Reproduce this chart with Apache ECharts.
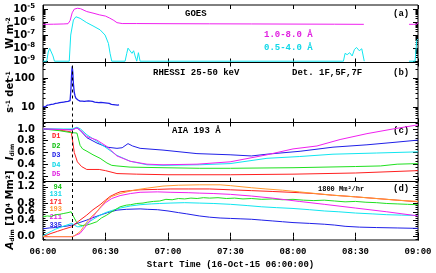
<!DOCTYPE html>
<html><head><meta charset="utf-8">
<script src="https://cdn.jsdelivr.net/npm/echarts@6/dist/echarts.min.js"></script>
<style>html,body{margin:0;padding:0;background:#fff}#c{width:436px;height:273px}</style>
</head><body><div id="c"></div>
<script>
// ---------- tick labels ----------
const xTicks = ['06:00','06:30','07:00','07:30','08:00','08:30','09:00'];
const yTicksA = [-9,-8,-7,-6,-5];          // log10 W m^-2
const yTicksB = [1,2];                      // log10 counts
const yTicksC = [0.2,0.4,0.6,0.8,1.0];
const yTicksD = [0,0.2,0.4,0.6,0.8,1.0,1.2];
const dashT = 14; // minutes after 06:00

// ---------- (a) GOES, [minutes, log10 flux] ----------
const goesLong = [[0,-6.18],[5,-6.17],[10,-6.15],[12,-6.13],[13,-5.9],[14,-5.3],[15,-5.02],[16.5,-4.95],[18,-4.98],[21,-5.2],[24,-5.32],[27,-5.45],[30,-5.55],[32,-5.7],[34,-5.88],[35.5,-6.05],[38,-6.12],[45,-6.12],[60,-6.13],[80,-6.14],[100,-6.15],[120,-6.16],[140,-6.17],[154,-6.18],[155,null],[175.7,-6.18],[178,-6.18],[179.5,-6.17],[180,-6.03]];
const goesShort = [[0,-9],[1.8,-9],[2.5,-8.3],[3.2,-8.02],[4,-8.1],[4.8,-8.6],[5.5,-9],[12.6,-9],[13.3,-7.0],[14.6,-5.85],[15.8,-5.6],[17.8,-5.72],[21,-6.05],[24,-6.3],[27.4,-6.6],[29.8,-7.0],[31.4,-7.64],[32.2,-8.4],[33,-9],[39.4,-9],[40.2,-8.4],[40.8,-8.0],[41.6,-8.1],[42.7,-8.4],[43.5,-8.2],[44.2,-8.6],[45,-9],[45.8,-8.35],[46.6,-9],[144.2,-9],[145,-8.4],[146,-8.5],[147.2,-8.35],[148.4,-8.6],[149.5,-8.1],[150.5,-7.95],[151.8,-8.2],[153,-8.05],[154.2,-9],[155,null],[175.7,-9],[178.6,-9],[179.4,-7.4],[180,-7.3]];

// ---------- (b) RHESSI 25-50 keV, [minutes, log10 rate] ----------
const rhessi = [[0,1.02],[0.5,1.05],[1,1.0],[1.5,1.04],[2,1.06],[2.5,1.03],[3,1.07],[3.5,1.05],[4,1.09],[4.5,1.06],[5,1.1],[5.5,1.08],[6,1.12],[6.5,1.09],[7,1.13],[7.5,1.11],[8,1.15],[8.5,1.12],[9,1.16],[9.5,1.14],[10,1.17],[10.5,1.15],[11,1.18],[11.5,1.16],[12,1.19],[12.5,1.18],[13,1.22],[13.4,1.6],[13.7,2.1],[14,2.41],[14.3,2.2],[14.6,1.8],[15,1.5],[15.4,1.38],[15.8,1.3],[16.3,1.26],[16.8,1.24],[17.3,1.22],[17.8,1.2],[18.3,1.23],[18.8,1.2],[19.3,1.22],[19.8,1.19],[20.3,1.21],[20.8,1.2],[21.3,1.18],[21.8,1.21],[22.3,1.19],[22.8,1.2],[23.3,1.22],[23.8,1.19],[24.3,1.21],[24.8,1.17],[25.3,1.19],[25.8,1.16],[26.3,1.18],[26.8,1.15],[27.3,1.14],[27.8,1.16],[28.3,1.13],[28.8,1.15],[29.3,1.12],[29.8,1.14],[30.3,1.11],[30.8,1.13],[31.3,1.1],[31.8,1.12],[32.3,1.11],[32.8,1.09],[33.3,1.12],[33.8,1.08],[34.3,1.1],[34.8,1.07],[35.3,1.09],[35.8,1.06],[36.5,1.07]];

// ---------- (c) AIA 193 dimming intensity ----------
const cD1 = [[0,1.0],[5,0.99],[10,0.97],[13.5,0.95],[14,0.85],[15,0.6],[16.5,0.44],[18.5,0.36],[21,0.31],[27,0.31],[30,0.29],[35.5,0.24],[45,0.23],[60,0.22],[90,0.22],[120,0.23],[150,0.25],[180,0.29]];
const cD2 = [[0,1.0],[8,0.97],[13,0.94],[16.3,0.93],[17.8,0.72],[19,0.66],[21.1,0.62],[24,0.56],[27.4,0.5],[30.7,0.42],[33,0.38],[35.5,0.37],[41.8,0.35],[57.6,0.34],[75,0.33],[90,0.33],[120,0.34],[150,0.36],[162,0.37],[170,0.4],[180,0.41]];
const cD3 = [[0,1.0],[10,0.99],[14,0.99],[16.3,1.02],[18,0.97],[21.1,0.85],[25.9,0.76],[30.7,0.69],[35.5,0.67],[38,0.68],[40.8,0.75],[43,0.71],[46.6,0.67],[57.6,0.64],[73.9,0.58],[89.8,0.56],[100,0.54],[107.5,0.57],[123.4,0.62],[139.2,0.69],[155.5,0.73],[168,0.77],[180,0.81]];
const cD4 = [[0,1.0],[10,1.0],[14,1.0],[16.3,1.03],[18,1.0],[21.1,0.9],[25.9,0.79],[30.7,0.67],[35.5,0.55],[41.8,0.45],[49.9,0.39],[57.6,0.38],[75,0.39],[89.8,0.41],[107.5,0.5],[123,0.53],[139.2,0.57],[160,0.59],[180,0.61]];
const cD5 = [[0,1.0],[10,0.99],[14,0.98],[16.3,1.02],[18,0.98],[21.1,0.87],[25.9,0.81],[30.7,0.7],[35.5,0.54],[41.8,0.45],[49.9,0.4],[57.6,0.39],[73.9,0.4],[89.8,0.44],[107.5,0.56],[120,0.66],[131.5,0.71],[142.6,0.82],[155.5,0.92],[168,1.0],[180,1.07]];

// ---------- (d) dimming area [10^4 Mm^2] ----------
const d94 = [[0,0.48],[2,0.5],[4,0.49],[6,0.53],[8,0.54],[10,0.56],[12,0.58],[13.5,0.6],[14.5,0.5],[16,0.36],[17.5,0.28],[19,0.27],[21,0.28],[23,0.31],[25.8,0.36],[28,0.45],[30.6,0.52],[33,0.6],[35,0.66],[37,0.72],[40,0.76],[42,0.77],[45,0.8],[48,0.81],[50,0.83],[53,0.85],[56,0.86],[59,0.9],[62,0.89],[65,0.92],[68,0.91],[71,0.93],[74,0.92],[77,0.94],[80,0.93],[84,0.94],[88,0.92],[92,0.93],[96,0.91],[100,0.92],[105,0.9],[110,0.91],[115,0.89],[120,0.9],[125,0.88],[130,0.87],[135,0.88],[140,0.86],[145,0.84],[150,0.85],[155,0.83],[160,0.82],[165,0.8],[170,0.79],[175,0.78],[180,0.77]];
const d131 = [[0,0.02],[2,0.08],[4,0.13],[6,0.18],[9,0.24],[12,0.29],[13.8,0.32],[15,0.28],[16.5,0.24],[18,0.24],[19.5,0.27],[21,0.32],[23.5,0.4],[26,0.48],[28,0.53],[30,0.58],[33,0.63],[37,0.69],[42,0.74],[46.6,0.77],[52,0.79],[56,0.8],[61,0.81],[68,0.82],[75,0.81],[82,0.8],[90,0.78],[98,0.75],[105,0.72],[112,0.7],[120,0.68],[128,0.65],[135,0.62],[142,0.6],[150,0.57],[158,0.55],[165,0.53],[172,0.52],[180,0.51]];
const d171 = [[0,0.0],[3.4,0.07],[7,0.13],[10,0.18],[13.8,0.24],[17,0.37],[21,0.52],[24,0.65],[27.4,0.77],[30,0.88],[32.2,0.97],[35,1.04],[37,1.08],[42,1.11],[46.6,1.13],[55,1.14],[61,1.15],[70,1.15],[80,1.15],[90,1.13],[100,1.11],[110,1.09],[123,1.06],[130,1.04],[139,1.0],[150,0.96],[160,0.92],[170,0.88],[180,0.84]];
const d193 = [[0,0.0],[14,0.0],[15,0.02],[17.8,0.12],[21,0.35],[23,0.47],[25.8,0.6],[28,0.74],[30.6,0.88],[33,0.97],[37,1.04],[41.8,1.1],[46,1.14],[50,1.17],[57.6,1.22],[65,1.24],[75,1.25],[85,1.25],[90,1.23],[100,1.18],[107,1.15],[115,1.12],[123,1.08],[131,1.04],[139,1.0],[150,0.96],[160,0.92],[170,0.88],[180,0.85]];
const d211 = [[0,0.0],[14,0.0],[15,0.02],[17.8,0.08],[21,0.28],[23.5,0.45],[25.8,0.6],[28,0.72],[30,0.82],[33,0.92],[37,0.99],[42,1.04],[46.6,1.07],[55,1.08],[61,1.07],[70,1.06],[75,1.05],[82,1.04],[90,1.02],[100,0.98],[110,0.93],[123,0.85],[135,0.78],[150,0.69],[165,0.6],[180,0.5]];
const d335 = [[0,0.19],[3,0.21],[6,0.22],[9,0.24],[12,0.26],[13.8,0.28],[17,0.33],[21,0.4],[24,0.46],[27.4,0.52],[31,0.58],[35.5,0.64],[40,0.66],[46.6,0.67],[50,0.66],[55,0.65],[60,0.62],[65,0.58],[69,0.55],[75,0.5],[80,0.47],[85,0.45],[90,0.44],[95,0.43],[100,0.42],[105,0.4],[110,0.38],[115,0.36],[120,0.34],[128,0.32],[135,0.3],[140,0.28],[145,0.25],[152,0.23],[160,0.22],[170,0.21],[180,0.2]];

// ---------- colours ----------
const MAG='#f020f0', CYA='#10e6f0', BLU='#2020e8', RED='#ff2020', GRN='#20e020', ORA='#ff9a30';

// ---------- layout ----------
const L = 43, W = 375;
const panels = [
  {top:5, height:57.5, range:[-9.1,-4.7], ticks:yTicksA},
  {top:62.5, height:60, range:[0.46,2.54], ticks:yTicksB},
  {top:122.5, height:59, range:[0.105,1.11], ticks:yTicksC},
  {top:181.5, height:58.5, range:[-0.08,1.33], ticks:yTicksD}
];
function logMinor(lo, hi){ const r=[]; for(let n=Math.floor(lo)-1;n<=Math.ceil(hi);n++){for(let k=2;k<=9;k++){const v=n+Math.log10(k); if(v>lo&&v<hi) r.push(v);}} return r; }
function linMinor(lo, hi, st){ const r=[]; for(let v=Math.ceil(lo/st)*st; v<hi; v+=st){ r.push(+v.toFixed(4)); } return r; }
const minors = [logMinor(-9.1,-4.7), logMinor(0.46,2.54), linMinor(0.105,1.11,0.05), linMinor(-0.08,1.33,0.05)];

const labelFmt = [
  v => '{b|10}{s|' + Math.round(v) + '}',
  v => String(Math.round(Math.pow(10, v))),
  v => v.toFixed(1),
  v => v.toFixed(1)
];

const grid=[], xAxis=[], yAxis=[];
panels.forEach((p,i)=>{
  grid.push({left:L, width:W, top:p.top, height:p.height, show:true, borderColor:'#000', borderWidth:1, backgroundColor:'transparent'});
  ['bottom','top'].forEach(pos=>{
    xAxis.push({type:'value', gridIndex:i, position:pos, min:0, max:180, interval:30,
      axisLine:{show:false}, splitLine:{show:false},
      axisTick:{show:true, inside:true, length:4, lineStyle:{color:'#000'}},
      axisLabel:{show: (i===3 && pos==='bottom'), formatter: v => xTicks[Math.round(v/30)], margin:7,
        showMinLabel:true, showMaxLabel:true, hideOverlap:false,
        fontFamily:'Liberation Mono', fontWeight:'bold', fontSize:9, color:'#000'}});
  });
  ['left','right'].forEach(pos=>{
    yAxis.push({type:'value', gridIndex:i, position:pos, min:p.range[0], max:p.range[1],
      axisLine:{show:false}, splitLine:{show:false},
      axisTick:{show:true, inside:true, length:5, customValues:p.ticks, lineStyle:{color:'#000'}},
      axisLabel:{show: pos==='left', customValues:p.ticks, formatter:labelFmt[i], margin:8,
        showMinLabel:true, showMaxLabel:true, hideOverlap:false,
        fontFamily:'DejaVu Sans', fontWeight:'bold', fontSize:10, color:'#000',
        rich:{b:{fontFamily:'DejaVu Sans', fontWeight:'bold', fontSize:10, color:'#000'},
              s:{fontFamily:'DejaVu Sans', fontWeight:'bold', fontSize:7, color:'#000', verticalAlign:'top', padding:[0,0,6,0]}}}});
    yAxis.push({type:'value', gridIndex:i, position:pos, min:p.range[0], max:p.range[1],
      axisLine:{show:false}, splitLine:{show:false},
      axisTick:{show:true, inside:true, length:2.5, customValues:minors[i], lineStyle:{color:'#000'}},
      axisLabel:{show:false}});
  });
});

function line(data, color, pi, extra, w){
  return Object.assign({type:'line', xAxisIndex:pi*2, yAxisIndex:pi*4, data:data, showSymbol:false, symbol:'none',
    connectNulls:false, lineStyle:{color:color, width:w||1}, itemStyle:{color:color}, animation:false, silent:true}, extra||{});
}
const dashMark = {markLine:{silent:true, symbol:['none','none'], label:{show:false},
  lineStyle:{color:'#000', width:1, type:[3,3]}, data:[{xAxis:dashT}], animation:false}};

const series = [
  line(goesLong, MAG, 0),
  line(goesShort, CYA, 0),
  line(rhessi, BLU, 1, dashMark, 1.3),
  line(cD1, RED, 2, dashMark), line(cD2, GRN, 2), line(cD3, BLU, 2), line(cD4, CYA, 2), line(cD5, MAG, 2),
  line(d335, BLU, 3, dashMark), line(d131, CYA, 3), line(d94, GRN, 3), line(d211, MAG, 3), line(d171, RED, 3), line(d193, ORA, 3)
];

const mono = 'bold 9px "Liberation Mono"';
const small = 'bold 7px "Liberation Mono"';
function txt(t, x, y, font, fill, align){ return {type:'text', x:x, y:y, silent:true, style:{text:t, font:font, fill:fill||'#000', align:align||'left', verticalAlign:'middle'}}; }
function vtxt(t, x, y, rich){ return {type:'text', x:x, y:y, rotation:Math.PI/2, silent:true, style:{text:t, font:'bold 10px "DejaVu Sans"', fill:'#000', align:'center', verticalAlign:'middle', rich:rich}}; }
const richY = {
  n:{fontFamily:'DejaVu Sans', fontWeight:'bold', fontSize:10, fill:'#000'},
  i:{fontFamily:'DejaVu Sans', fontWeight:'bold', fontStyle:'italic', fontSize:10, fill:'#000'},
  p:{fontFamily:'DejaVu Sans', fontWeight:'bold', fontSize:6, fill:'#000', verticalAlign:'top'},
  q:{fontFamily:'DejaVu Sans', fontWeight:'bold', fontSize:6, fill:'#000', verticalAlign:'bottom'}
};
const graphic = [
  txt('GOES', 185, 14, mono), txt('(a)', 393, 14, mono),
  txt('1.0-8.0 Å', 264, 35, mono, '#e020e0'), txt('0.5-4.0 Å', 264, 48, mono, '#10d8e8'),
  txt('RHESSI 25-50 keV', 153, 73, mono), txt('Det. 1F,5F,7F', 292, 73, mono), txt('(b)', 393, 73, mono),
  txt('AIA 193 Å', 172, 131, mono), txt('(c)', 393, 131, mono),
  txt('D1', 52, 136.5, small, '#ff2020'), txt('D2', 52, 146, small, '#10c010'), txt('D3', 52, 155.5, small, '#2020e8'),
  txt('D4', 52, 165, small, '#10d8e8'), txt('D5', 52, 174.5, small, '#e020e0'),
  txt('1800 Mm²/hr', 318, 189, small), txt('(d)', 393, 189, mono),
  txt('94', 62, 187, small, '#10c010', 'right'), txt('131', 62, 194.5, small, '#10d8e8', 'right'),
  txt('171', 62, 202, small, '#ff2020', 'right'), txt('193', 62, 209.5, small, '#ff9a30', 'right'),
  txt('211', 62, 217, small, '#e020e0', 'right'), txt('335', 62, 225, small, '#2020e8', 'right'),
  txt('Start Time (16-Oct-15 06:00:00)', 230.5, 265, mono, '#000', 'center'),
  vtxt('{n|W m}{p|-2}', 10, 33, richY),
  vtxt('{n|s}{p|-1}{n| det}{p|-1}', 10, 92, richY),
  vtxt('{i|I}{q|dim}', 10, 152, richY),
  vtxt('{i|A}{q|dim}{n| [10}{p|4}{n| Mm}{p|2}{n|]}', 10, 210, richY)
];

const chart = echarts.init(document.getElementById('c'), null, {renderer:'canvas'});
chart.setOption({animation:false, backgroundColor:'#fff', grid, xAxis, yAxis, series, graphic});
</script></body></html>
